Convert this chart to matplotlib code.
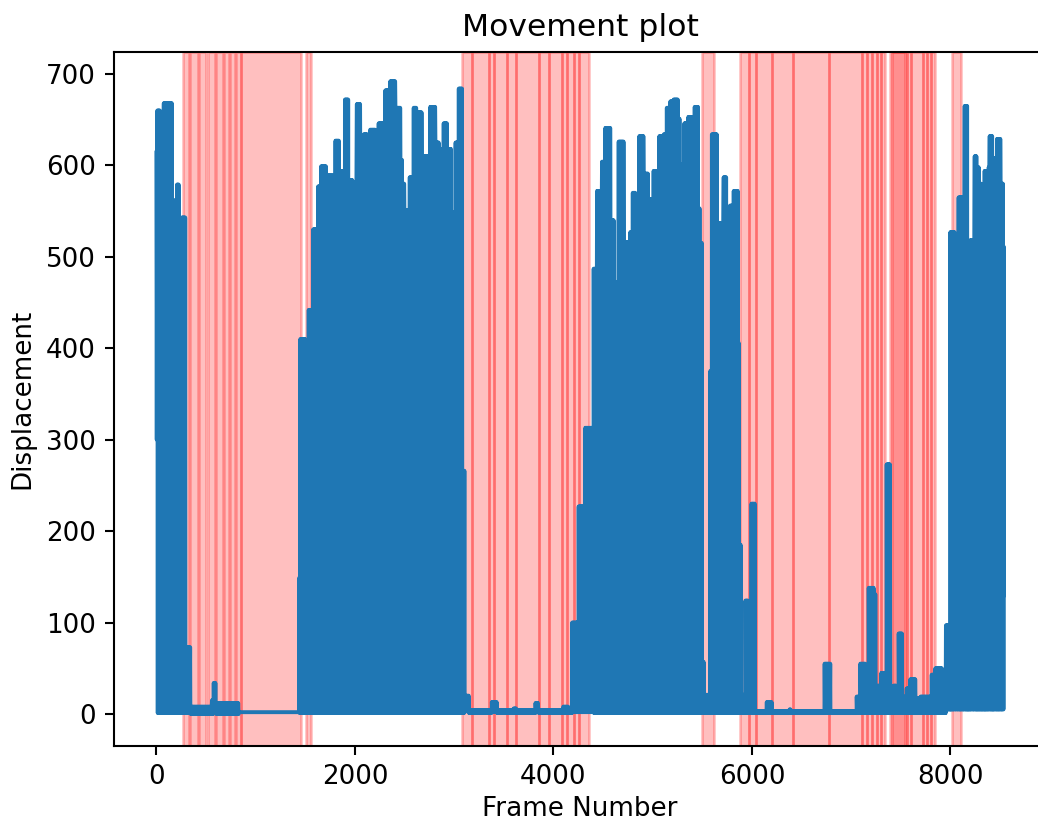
import numpy as np
import matplotlib
matplotlib.use("Agg")
import matplotlib.pyplot as plt

# ---- data -------------------------------------------------------------
# Runs of frames: between run_edges[i] and run_edges[i+1] the displacement
# oscillates between run_high[i] and run_low[i].
run_edges = [0, 10, 40, 75, 160, 180, 208, 232, 258, 292, 342, 560, 578, 600, 829,
             1440, 1450, 1500, 1535, 1560, 1580, 1630, 1660, 1710, 1787, 1805, 1845,
             1900, 1940, 1980, 2000, 2020, 2055, 2090, 2130, 2155, 2205, 2240, 2290,
             2307, 2357, 2408, 2458, 2480, 2500, 2520, 2553, 2593, 2623, 2673, 2700,
             2760, 2811, 2845, 2878, 2895, 2935, 2975, 3015, 3047, 3087,
             3106, 3147, 3380, 3430, 3600, 3630, 3820, 3850, 4100, 4150, 4190, 4255,
             4305, 4322, 4389,
             4406, 4440, 4490, 4524, 4574, 4608, 4658, 4708, 4759, 4775, 4800, 4830,
             4866, 4910, 4927, 4953, 4977, 5010, 5068, 5113, 5143, 5179, 5212, 5254,
             5278, 5300, 5320, 5360, 5424, 5464, 5480, 5497, 5515, 5580, 5597, 5647,
             5680, 5716, 5746, 5780, 5817, 5858, 5870,
             5890, 5935, 5965, 5996, 6035, 6150, 6200, 6380, 6395, 6733, 6791, 7056,
             7093, 7144, 7177, 7227, 7250, 7270, 7305, 7358, 7395, 7428, 7458, 7479,
             7512, 7560, 7597, 7648, 7700, 7812, 7849, 7916, 7955,
             8000, 8044, 8064, 8083, 8117, 8144, 8174, 8198, 8218, 8245, 8268, 8292,
             8315, 8345, 8386, 8396, 8426, 8453, 8470, 8504, 8530, 8540]

run_high = [614, 660, 640, 668, 562, 440, 579, 467, 543, 73, 8, 15, 34, 12, 2,
            149, 410, 300, 442, 391, 530, 577, 599, 589, 506, 627, 594,
            672, 584, 541, 582, 667, 587, 634, 591, 639, 603, 646, 620,
            682, 692, 663, 606, 580, 525, 551, 587, 663, 658, 577, 610,
            664, 625, 594, 618, 646, 618, 549, 625, 684, 266,
            20, 4, 13, 4, 6, 4, 12, 4, 8, 4, 100, 227,
            154, 313, 27,
            487, 572, 604, 641, 540, 472, 626, 516, 494, 527, 570, 539,
            632, 539, 591, 539, 563, 594, 632, 634, 663, 670, 672, 651,
            601, 551, 646, 653, 664, 553, 515, 57, 21, 375, 634, 537,
            520, 587, 551, 556, 572, 406, 185,
            21, 124, 7, 230, 3, 13, 3, 5, 3, 55, 3, 19,
            55, 31, 138, 131, 17, 31, 45, 273, 12, 31, 12, 88,
            19, 28, 38, 17, 19, 43, 50, 40, 97,
            527, 352, 404, 565, 485, 665, 468, 518, 515, 610, 598, 580,
            541, 594, 598, 632, 608, 601, 629, 580, 511]

run_low = [300, 1, 1, 1, 1, 1, 1, 1, 1, 1, 0, 0, 2, 0, 2,
           1, 1, 1, 1, 1, 1, 1, 1, 1, 1, 1, 1,
           1, 1, 1, 1, 1, 1, 1, 1, 1, 1, 1, 1,
           1, 1, 1, 1, 1, 1, 1, 1, 1, 1, 1, 1,
           1, 1, 1, 1, 1, 1, 1, 1, 1, 1,
           3, 1, 2, 1, 1, 1, 2, 1, 1, 1, 2, 2,
           2, 2, 2,
           1, 1, 1, 1, 1, 1, 1, 1, 1, 1, 1, 1,
           1, 1, 1, 1, 1, 1, 1, 1, 1, 1, 1, 1,
           1, 1, 1, 1, 1, 1, 1, 2, 1, 1, 1, 1,
           1, 1, 1, 1, 1, 1, 1,
           1, 1, 1, 1, 1, 1, 1, 1, 1, 1, 1, 1,
           1, 1, 1, 1, 1, 1, 1, 1, 1, 1, 1, 1,
           1, 1, 1, 1, 1, 1, 1, 1, 5,
           5, 5, 5, 5, 5, 5, 5, 5, 5, 5, 5, 5,
           5, 5, 5, 5, 5, 5, 5, 5, 5]

last_frame = 8540
last_value = 130

# shaded (no-movement) frame intervals
span_start = [265, 335, 426, 517, 598, 678, 738, 799, 850, 1505,
              3076, 3177, 3348, 3399, 3529, 3620, 3852, 3952, 4083, 4133, 4204, 4255,
              5497,
              5884, 5968, 6043, 6200, 6411, 6774, 7107, 7158, 7208, 7258, 7298,
              7395, 7409, 7560, 7600, 7721, 7761, 7801, 8013]
span_end = [325, 416, 497, 587, 668, 728, 789, 850, 1455, 1556,
            3177, 3348, 3399, 3529, 3620, 3852, 3952, 4083, 4133, 4204, 4255, 4356,
            5615,
            5968, 6043, 6200, 6411, 6774, 7107, 7158, 7208, 7258, 7298, 7345,
            7560, 7540, 7600, 7721, 7761, 7801, 7849, 8103]

# ---- build the line vertices ----------------------------------------
xs, ys = [], []
for i in range(len(run_high)):
    f = np.arange(run_edges[i], run_edges[i + 1], 4)
    v = np.where(np.arange(len(f)) % 2 == 0, run_high[i], run_low[i])
    xs.append(f)
    ys.append(v)
xs.append(np.array([last_frame]))
ys.append(np.array([last_value]))
x = np.concatenate(xs)
y = np.concatenate(ys)

# ---- figure ----------------------------------------------------------
W, H, DPI = 1038, 823, 188
fig = plt.figure(figsize=(W / DPI, H / DPI), dpi=DPI)
ax = fig.add_axes([114 / W, 77 / H, 932.4 / W, 694 / H])

ax.plot(x, y, color='#1f77b4', linewidth=1.5)
for s, e in zip(span_start, span_end):
    ax.axvspan(s, e, color='red', alpha=0.25)

ax.set_xlim(-427, 8967)
ax.set_ylim(-35, 724)
ax.set_title("Movement plot")
ax.set_xlabel("Frame Number", labelpad=2)
ax.set_ylabel("Displacement")

fig.savefig("out.png", dpi=DPI)
